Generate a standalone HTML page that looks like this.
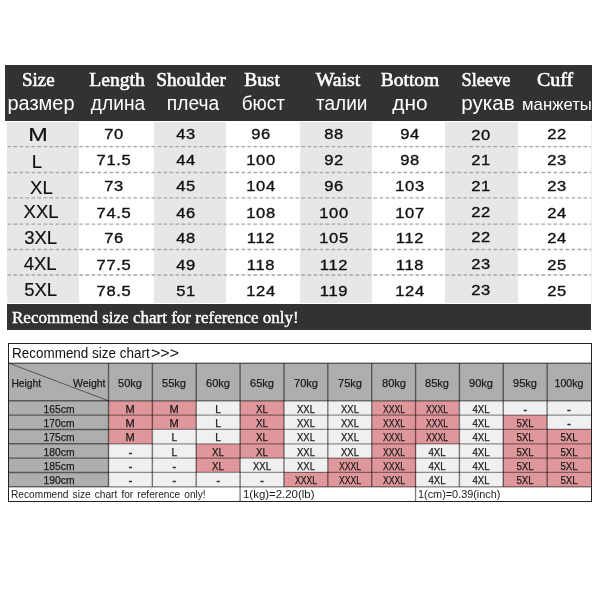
<!DOCTYPE html>
<html><head><meta charset="utf-8"><title>Size chart</title>
<style>
html,body{margin:0;padding:0;background:#fff;}
body{width:600px;height:600px;position:relative;overflow:hidden;font-family:"Liberation Sans",sans-serif;color:#111;}
.a{position:absolute;white-space:nowrap;}
#w{position:absolute;left:0;top:0;width:600px;height:600px;will-change:transform;}
</style></head><body><div id="w">
<div class="a" style="left:5px;top:65px;width:587px;height:55.5px;background:#333132;"></div>
<div class="a" style="left:7px;top:121.8px;width:72px;height:181.4px;background:#e7e7e7;"></div>
<div class="a" style="left:153.5px;top:121.8px;width:72.5px;height:181.4px;background:#e7e7e7;"></div>
<div class="a" style="left:300px;top:121.8px;width:72px;height:181.4px;background:#e7e7e7;"></div>
<div class="a" style="left:445px;top:121.8px;width:73px;height:181.4px;background:#e7e7e7;"></div>
<div class="a" style="left:590.5px;top:122px;width:1px;height:181px;background:#ececec;"></div>
<svg class="a" style="left:0;top:0" width="600" height="600"><line x1="7.5" y1="146.7" x2="591" y2="146.7" stroke="#a6a6a6" stroke-width="1.3" stroke-dasharray="3.6 2.4"/><line x1="7.5" y1="172.5" x2="591" y2="172.5" stroke="#a6a6a6" stroke-width="1.3" stroke-dasharray="3.6 2.4"/><line x1="7.5" y1="197.8" x2="591" y2="197.8" stroke="#a6a6a6" stroke-width="1.3" stroke-dasharray="3.6 2.4"/><line x1="7.5" y1="224.2" x2="591" y2="224.2" stroke="#a6a6a6" stroke-width="1.3" stroke-dasharray="3.6 2.4"/><line x1="7.5" y1="249.5" x2="591" y2="249.5" stroke="#a6a6a6" stroke-width="1.3" stroke-dasharray="3.6 2.4"/><line x1="7.5" y1="275.0" x2="591" y2="275.0" stroke="#a6a6a6" stroke-width="1.3" stroke-dasharray="3.6 2.4"/></svg>
<div class="a" style="left:38.30px;top:70.49px;font-family:'Liberation Serif',serif;font-size:19px;line-height:19px;color:#fff;-webkit-text-stroke:0.55px #fff;transform:translateX(-50%);transform-origin:50% 83.8%;">Size</div>
<div class="a" style="left:116.50px;top:70.49px;font-family:'Liberation Serif',serif;font-size:19px;line-height:19px;color:#fff;-webkit-text-stroke:0.55px #fff;transform:translateX(-50%) scale(1.03,1.0);transform-origin:50% 83.8%;">Length</div>
<div class="a" style="left:190.70px;top:70.49px;font-family:'Liberation Serif',serif;font-size:19px;line-height:19px;color:#fff;-webkit-text-stroke:0.55px #fff;transform:translateX(-50%) scale(1.015,1.0);transform-origin:50% 83.8%;">Shoulder</div>
<div class="a" style="left:262.10px;top:70.49px;font-family:'Liberation Serif',serif;font-size:19px;line-height:19px;color:#fff;-webkit-text-stroke:0.55px #fff;transform:translateX(-50%) scale(1.02,1.0);transform-origin:50% 83.8%;">Bust</div>
<div class="a" style="left:337.80px;top:70.49px;font-family:'Liberation Serif',serif;font-size:19px;line-height:19px;color:#fff;-webkit-text-stroke:0.55px #fff;transform:translateX(-50%) scale(1.045,1.0);transform-origin:50% 83.8%;">Waist</div>
<div class="a" style="left:409.50px;top:70.49px;font-family:'Liberation Serif',serif;font-size:19px;line-height:19px;color:#fff;-webkit-text-stroke:0.55px #fff;transform:translateX(-50%) scale(1.025,1.0);transform-origin:50% 83.8%;">Bottom</div>
<div class="a" style="left:486.10px;top:70.49px;font-family:'Liberation Serif',serif;font-size:19px;line-height:19px;color:#fff;-webkit-text-stroke:0.55px #fff;transform:translateX(-50%) scale(0.965,1.0);transform-origin:50% 83.8%;">Sleeve</div>
<div class="a" style="left:555.40px;top:70.49px;font-family:'Liberation Serif',serif;font-size:19px;line-height:19px;color:#fff;-webkit-text-stroke:0.55px #fff;transform:translateX(-50%) scale(1.05,1.0);transform-origin:50% 83.8%;">Cuff</div>
<div class="a" style="left:40.60px;top:94.12px;font-family:'Liberation Sans',sans-serif;font-size:19px;line-height:19px;color:#fff;transform:translateX(-50%) scale(1.05,1.02);transform-origin:50% 84.7%;">размер</div>
<div class="a" style="left:117.50px;top:94.12px;font-family:'Liberation Sans',sans-serif;font-size:19px;line-height:19px;color:#fff;transform:translateX(-50%) scale(1.01,1.02);transform-origin:50% 84.7%;">длина</div>
<div class="a" style="left:193.30px;top:94.12px;font-family:'Liberation Sans',sans-serif;font-size:19px;line-height:19px;color:#fff;transform:translateX(-50%) scale(1.01,1.02);transform-origin:50% 84.7%;">плеча</div>
<div class="a" style="left:263.30px;top:94.12px;font-family:'Liberation Sans',sans-serif;font-size:19px;line-height:19px;color:#fff;transform:translateX(-50%) scale(1.0,1.02);transform-origin:50% 84.7%;">бюст</div>
<div class="a" style="left:341.70px;top:94.12px;font-family:'Liberation Sans',sans-serif;font-size:19px;line-height:19px;color:#fff;transform:translateX(-50%) scale(1.0,1.02);transform-origin:50% 84.7%;">талии</div>
<div class="a" style="left:410.40px;top:94.12px;font-family:'Liberation Sans',sans-serif;font-size:19px;line-height:19px;color:#fff;transform:translateX(-50%) scale(1.1,1.02);transform-origin:50% 84.7%;">дно</div>
<div class="a" style="left:488.00px;top:94.12px;font-family:'Liberation Sans',sans-serif;font-size:19px;line-height:19px;color:#fff;transform:translateX(-50%) scale(1.085,1.02);transform-origin:50% 84.7%;">рукав</div>
<div class="a" style="left:557.00px;top:96.40px;font-family:'Liberation Sans',sans-serif;font-size:16.3px;line-height:16.3px;color:#fff;transform:translateX(-50%) scale(1.03,1.02);transform-origin:50% 84.7%;">манжеты</div>
<div class="a" style="left:38.00px;top:126.24px;font-family:'Liberation Sans',sans-serif;font-size:18.5px;line-height:18.5px;color:#111;-webkit-text-stroke:0.2px #111;transform:translateX(-50%) scale(1.27,1.04);transform-origin:50% 84.7%;">M</div>
<div class="a" style="left:113.70px;top:125.73px;font-family:'Liberation Sans',sans-serif;font-size:15.2px;line-height:15.2px;color:#111;letter-spacing:0.6px;-webkit-text-stroke:0.35px #111;transform:translateX(-50%) scale(1.09,1);transform-origin:50% 84.7%;">70</div>
<div class="a" style="left:186.30px;top:125.73px;font-family:'Liberation Sans',sans-serif;font-size:15.2px;line-height:15.2px;color:#111;letter-spacing:0.6px;-webkit-text-stroke:0.35px #111;transform:translateX(-50%) scale(1.09,1);transform-origin:50% 84.7%;">43</div>
<div class="a" style="left:261.40px;top:125.73px;font-family:'Liberation Sans',sans-serif;font-size:15.2px;line-height:15.2px;color:#111;letter-spacing:0.6px;-webkit-text-stroke:0.35px #111;transform:translateX(-50%) scale(1.09,1);transform-origin:50% 84.7%;">96</div>
<div class="a" style="left:334.40px;top:125.73px;font-family:'Liberation Sans',sans-serif;font-size:15.2px;line-height:15.2px;color:#111;letter-spacing:0.6px;-webkit-text-stroke:0.35px #111;transform:translateX(-50%) scale(1.09,1);transform-origin:50% 84.7%;">88</div>
<div class="a" style="left:409.60px;top:125.73px;font-family:'Liberation Sans',sans-serif;font-size:15.2px;line-height:15.2px;color:#111;letter-spacing:0.6px;-webkit-text-stroke:0.35px #111;transform:translateX(-50%) scale(1.09,1);transform-origin:50% 84.7%;">94</div>
<div class="a" style="left:481.30px;top:126.73px;font-family:'Liberation Sans',sans-serif;font-size:15.2px;line-height:15.2px;color:#111;letter-spacing:0.6px;-webkit-text-stroke:0.35px #111;transform:translateX(-50%) scale(1.09,1);transform-origin:50% 84.7%;">20</div>
<div class="a" style="left:556.80px;top:125.73px;font-family:'Liberation Sans',sans-serif;font-size:15.2px;line-height:15.2px;color:#111;letter-spacing:0.6px;-webkit-text-stroke:0.35px #111;transform:translateX(-50%) scale(1.09,1);transform-origin:50% 84.7%;">22</div>
<div class="a" style="left:36.80px;top:153.24px;font-family:'Liberation Sans',sans-serif;font-size:18.5px;line-height:18.5px;color:#111;-webkit-text-stroke:0.2px #111;transform:translateX(-50%) scale(1,1.04);transform-origin:50% 84.7%;">L</div>
<div class="a" style="left:113.70px;top:151.93px;font-family:'Liberation Sans',sans-serif;font-size:15.2px;line-height:15.2px;color:#111;letter-spacing:0.6px;-webkit-text-stroke:0.35px #111;transform:translateX(-50%) scale(1.09,1);transform-origin:50% 84.7%;">71.5</div>
<div class="a" style="left:186.30px;top:151.93px;font-family:'Liberation Sans',sans-serif;font-size:15.2px;line-height:15.2px;color:#111;letter-spacing:0.6px;-webkit-text-stroke:0.35px #111;transform:translateX(-50%) scale(1.09,1);transform-origin:50% 84.7%;">44</div>
<div class="a" style="left:261.40px;top:151.93px;font-family:'Liberation Sans',sans-serif;font-size:15.2px;line-height:15.2px;color:#111;letter-spacing:0.6px;-webkit-text-stroke:0.35px #111;transform:translateX(-50%) scale(1.09,1);transform-origin:50% 84.7%;">100</div>
<div class="a" style="left:334.40px;top:151.93px;font-family:'Liberation Sans',sans-serif;font-size:15.2px;line-height:15.2px;color:#111;letter-spacing:0.6px;-webkit-text-stroke:0.35px #111;transform:translateX(-50%) scale(1.09,1);transform-origin:50% 84.7%;">92</div>
<div class="a" style="left:409.60px;top:151.93px;font-family:'Liberation Sans',sans-serif;font-size:15.2px;line-height:15.2px;color:#111;letter-spacing:0.6px;-webkit-text-stroke:0.35px #111;transform:translateX(-50%) scale(1.09,1);transform-origin:50% 84.7%;">98</div>
<div class="a" style="left:481.30px;top:151.93px;font-family:'Liberation Sans',sans-serif;font-size:15.2px;line-height:15.2px;color:#111;letter-spacing:0.6px;-webkit-text-stroke:0.35px #111;transform:translateX(-50%) scale(1.09,1);transform-origin:50% 84.7%;">21</div>
<div class="a" style="left:556.80px;top:151.93px;font-family:'Liberation Sans',sans-serif;font-size:15.2px;line-height:15.2px;color:#111;letter-spacing:0.6px;-webkit-text-stroke:0.35px #111;transform:translateX(-50%) scale(1.09,1);transform-origin:50% 84.7%;">23</div>
<div class="a" style="left:41.40px;top:178.74px;font-family:'Liberation Sans',sans-serif;font-size:18.5px;line-height:18.5px;color:#111;-webkit-text-stroke:0.2px #111;transform:translateX(-50%) scale(1,1.04);transform-origin:50% 84.7%;">XL</div>
<div class="a" style="left:113.70px;top:177.93px;font-family:'Liberation Sans',sans-serif;font-size:15.2px;line-height:15.2px;color:#111;letter-spacing:0.6px;-webkit-text-stroke:0.35px #111;transform:translateX(-50%) scale(1.09,1);transform-origin:50% 84.7%;">73</div>
<div class="a" style="left:186.30px;top:177.93px;font-family:'Liberation Sans',sans-serif;font-size:15.2px;line-height:15.2px;color:#111;letter-spacing:0.6px;-webkit-text-stroke:0.35px #111;transform:translateX(-50%) scale(1.09,1);transform-origin:50% 84.7%;">45</div>
<div class="a" style="left:261.40px;top:177.93px;font-family:'Liberation Sans',sans-serif;font-size:15.2px;line-height:15.2px;color:#111;letter-spacing:0.6px;-webkit-text-stroke:0.35px #111;transform:translateX(-50%) scale(1.09,1);transform-origin:50% 84.7%;">104</div>
<div class="a" style="left:334.40px;top:177.93px;font-family:'Liberation Sans',sans-serif;font-size:15.2px;line-height:15.2px;color:#111;letter-spacing:0.6px;-webkit-text-stroke:0.35px #111;transform:translateX(-50%) scale(1.09,1);transform-origin:50% 84.7%;">96</div>
<div class="a" style="left:409.60px;top:177.93px;font-family:'Liberation Sans',sans-serif;font-size:15.2px;line-height:15.2px;color:#111;letter-spacing:0.6px;-webkit-text-stroke:0.35px #111;transform:translateX(-50%) scale(1.09,1);transform-origin:50% 84.7%;">103</div>
<div class="a" style="left:481.30px;top:177.93px;font-family:'Liberation Sans',sans-serif;font-size:15.2px;line-height:15.2px;color:#111;letter-spacing:0.6px;-webkit-text-stroke:0.35px #111;transform:translateX(-50%) scale(1.09,1);transform-origin:50% 84.7%;">21</div>
<div class="a" style="left:556.80px;top:177.93px;font-family:'Liberation Sans',sans-serif;font-size:15.2px;line-height:15.2px;color:#111;letter-spacing:0.6px;-webkit-text-stroke:0.35px #111;transform:translateX(-50%) scale(1.09,1);transform-origin:50% 84.7%;">23</div>
<div class="a" style="left:41.10px;top:202.84px;font-family:'Liberation Sans',sans-serif;font-size:18.5px;line-height:18.5px;color:#111;-webkit-text-stroke:0.2px #111;transform:translateX(-50%) scale(1,1.04);transform-origin:50% 84.7%;">XXL</div>
<div class="a" style="left:113.70px;top:204.73px;font-family:'Liberation Sans',sans-serif;font-size:15.2px;line-height:15.2px;color:#111;letter-spacing:0.6px;-webkit-text-stroke:0.35px #111;transform:translateX(-50%) scale(1.09,1);transform-origin:50% 84.7%;">74.5</div>
<div class="a" style="left:186.30px;top:204.73px;font-family:'Liberation Sans',sans-serif;font-size:15.2px;line-height:15.2px;color:#111;letter-spacing:0.6px;-webkit-text-stroke:0.35px #111;transform:translateX(-50%) scale(1.09,1);transform-origin:50% 84.7%;">46</div>
<div class="a" style="left:261.40px;top:204.73px;font-family:'Liberation Sans',sans-serif;font-size:15.2px;line-height:15.2px;color:#111;letter-spacing:0.6px;-webkit-text-stroke:0.35px #111;transform:translateX(-50%) scale(1.09,1);transform-origin:50% 84.7%;">108</div>
<div class="a" style="left:334.40px;top:204.73px;font-family:'Liberation Sans',sans-serif;font-size:15.2px;line-height:15.2px;color:#111;letter-spacing:0.6px;-webkit-text-stroke:0.35px #111;transform:translateX(-50%) scale(1.09,1);transform-origin:50% 84.7%;">100</div>
<div class="a" style="left:409.60px;top:204.73px;font-family:'Liberation Sans',sans-serif;font-size:15.2px;line-height:15.2px;color:#111;letter-spacing:0.6px;-webkit-text-stroke:0.35px #111;transform:translateX(-50%) scale(1.09,1);transform-origin:50% 84.7%;">107</div>
<div class="a" style="left:481.30px;top:203.73px;font-family:'Liberation Sans',sans-serif;font-size:15.2px;line-height:15.2px;color:#111;letter-spacing:0.6px;-webkit-text-stroke:0.35px #111;transform:translateX(-50%) scale(1.09,1);transform-origin:50% 84.7%;">22</div>
<div class="a" style="left:556.80px;top:204.73px;font-family:'Liberation Sans',sans-serif;font-size:15.2px;line-height:15.2px;color:#111;letter-spacing:0.6px;-webkit-text-stroke:0.35px #111;transform:translateX(-50%) scale(1.09,1);transform-origin:50% 84.7%;">24</div>
<div class="a" style="left:40.70px;top:229.24px;font-family:'Liberation Sans',sans-serif;font-size:18.5px;line-height:18.5px;color:#111;-webkit-text-stroke:0.2px #111;transform:translateX(-50%) scale(1,1.04);transform-origin:50% 84.7%;">3XL</div>
<div class="a" style="left:113.70px;top:230.33px;font-family:'Liberation Sans',sans-serif;font-size:15.2px;line-height:15.2px;color:#111;letter-spacing:0.6px;-webkit-text-stroke:0.35px #111;transform:translateX(-50%) scale(1.09,1);transform-origin:50% 84.7%;">76</div>
<div class="a" style="left:186.30px;top:230.33px;font-family:'Liberation Sans',sans-serif;font-size:15.2px;line-height:15.2px;color:#111;letter-spacing:0.6px;-webkit-text-stroke:0.35px #111;transform:translateX(-50%) scale(1.09,1);transform-origin:50% 84.7%;">48</div>
<div class="a" style="left:261.40px;top:230.33px;font-family:'Liberation Sans',sans-serif;font-size:15.2px;line-height:15.2px;color:#111;letter-spacing:0.6px;-webkit-text-stroke:0.35px #111;transform:translateX(-50%) scale(1.09,1);transform-origin:50% 84.7%;">112</div>
<div class="a" style="left:334.40px;top:230.33px;font-family:'Liberation Sans',sans-serif;font-size:15.2px;line-height:15.2px;color:#111;letter-spacing:0.6px;-webkit-text-stroke:0.35px #111;transform:translateX(-50%) scale(1.09,1);transform-origin:50% 84.7%;">105</div>
<div class="a" style="left:409.60px;top:230.33px;font-family:'Liberation Sans',sans-serif;font-size:15.2px;line-height:15.2px;color:#111;letter-spacing:0.6px;-webkit-text-stroke:0.35px #111;transform:translateX(-50%) scale(1.09,1);transform-origin:50% 84.7%;">112</div>
<div class="a" style="left:481.30px;top:229.33px;font-family:'Liberation Sans',sans-serif;font-size:15.2px;line-height:15.2px;color:#111;letter-spacing:0.6px;-webkit-text-stroke:0.35px #111;transform:translateX(-50%) scale(1.09,1);transform-origin:50% 84.7%;">22</div>
<div class="a" style="left:556.80px;top:230.33px;font-family:'Liberation Sans',sans-serif;font-size:15.2px;line-height:15.2px;color:#111;letter-spacing:0.6px;-webkit-text-stroke:0.35px #111;transform:translateX(-50%) scale(1.09,1);transform-origin:50% 84.7%;">24</div>
<div class="a" style="left:40.20px;top:254.64px;font-family:'Liberation Sans',sans-serif;font-size:18.5px;line-height:18.5px;color:#111;-webkit-text-stroke:0.2px #111;transform:translateX(-50%) scale(1,1.04);transform-origin:50% 84.7%;">4XL</div>
<div class="a" style="left:113.70px;top:256.73px;font-family:'Liberation Sans',sans-serif;font-size:15.2px;line-height:15.2px;color:#111;letter-spacing:0.6px;-webkit-text-stroke:0.35px #111;transform:translateX(-50%) scale(1.09,1);transform-origin:50% 84.7%;">77.5</div>
<div class="a" style="left:186.30px;top:256.73px;font-family:'Liberation Sans',sans-serif;font-size:15.2px;line-height:15.2px;color:#111;letter-spacing:0.6px;-webkit-text-stroke:0.35px #111;transform:translateX(-50%) scale(1.09,1);transform-origin:50% 84.7%;">49</div>
<div class="a" style="left:261.40px;top:256.73px;font-family:'Liberation Sans',sans-serif;font-size:15.2px;line-height:15.2px;color:#111;letter-spacing:0.6px;-webkit-text-stroke:0.35px #111;transform:translateX(-50%) scale(1.09,1);transform-origin:50% 84.7%;">118</div>
<div class="a" style="left:334.40px;top:256.73px;font-family:'Liberation Sans',sans-serif;font-size:15.2px;line-height:15.2px;color:#111;letter-spacing:0.6px;-webkit-text-stroke:0.35px #111;transform:translateX(-50%) scale(1.09,1);transform-origin:50% 84.7%;">112</div>
<div class="a" style="left:409.60px;top:256.73px;font-family:'Liberation Sans',sans-serif;font-size:15.2px;line-height:15.2px;color:#111;letter-spacing:0.6px;-webkit-text-stroke:0.35px #111;transform:translateX(-50%) scale(1.09,1);transform-origin:50% 84.7%;">118</div>
<div class="a" style="left:481.30px;top:255.73px;font-family:'Liberation Sans',sans-serif;font-size:15.2px;line-height:15.2px;color:#111;letter-spacing:0.6px;-webkit-text-stroke:0.35px #111;transform:translateX(-50%) scale(1.09,1);transform-origin:50% 84.7%;">23</div>
<div class="a" style="left:556.80px;top:256.73px;font-family:'Liberation Sans',sans-serif;font-size:15.2px;line-height:15.2px;color:#111;letter-spacing:0.6px;-webkit-text-stroke:0.35px #111;transform:translateX(-50%) scale(1.09,1);transform-origin:50% 84.7%;">25</div>
<div class="a" style="left:40.60px;top:281.24px;font-family:'Liberation Sans',sans-serif;font-size:18.5px;line-height:18.5px;color:#111;-webkit-text-stroke:0.2px #111;transform:translateX(-50%) scale(1,1.04);transform-origin:50% 84.7%;">5XL</div>
<div class="a" style="left:113.70px;top:282.93px;font-family:'Liberation Sans',sans-serif;font-size:15.2px;line-height:15.2px;color:#111;letter-spacing:0.6px;-webkit-text-stroke:0.35px #111;transform:translateX(-50%) scale(1.09,1);transform-origin:50% 84.7%;">78.5</div>
<div class="a" style="left:186.30px;top:282.93px;font-family:'Liberation Sans',sans-serif;font-size:15.2px;line-height:15.2px;color:#111;letter-spacing:0.6px;-webkit-text-stroke:0.35px #111;transform:translateX(-50%) scale(1.09,1);transform-origin:50% 84.7%;">51</div>
<div class="a" style="left:261.40px;top:282.93px;font-family:'Liberation Sans',sans-serif;font-size:15.2px;line-height:15.2px;color:#111;letter-spacing:0.6px;-webkit-text-stroke:0.35px #111;transform:translateX(-50%) scale(1.09,1);transform-origin:50% 84.7%;">124</div>
<div class="a" style="left:334.40px;top:282.93px;font-family:'Liberation Sans',sans-serif;font-size:15.2px;line-height:15.2px;color:#111;letter-spacing:0.6px;-webkit-text-stroke:0.35px #111;transform:translateX(-50%) scale(1.09,1);transform-origin:50% 84.7%;">119</div>
<div class="a" style="left:409.60px;top:282.93px;font-family:'Liberation Sans',sans-serif;font-size:15.2px;line-height:15.2px;color:#111;letter-spacing:0.6px;-webkit-text-stroke:0.35px #111;transform:translateX(-50%) scale(1.09,1);transform-origin:50% 84.7%;">124</div>
<div class="a" style="left:481.30px;top:281.93px;font-family:'Liberation Sans',sans-serif;font-size:15.2px;line-height:15.2px;color:#111;letter-spacing:0.6px;-webkit-text-stroke:0.35px #111;transform:translateX(-50%) scale(1.09,1);transform-origin:50% 84.7%;">23</div>
<div class="a" style="left:556.80px;top:282.93px;font-family:'Liberation Sans',sans-serif;font-size:15.2px;line-height:15.2px;color:#111;letter-spacing:0.6px;-webkit-text-stroke:0.35px #111;transform:translateX(-50%) scale(1.09,1);transform-origin:50% 84.7%;">25</div>
<div class="a" style="left:7px;top:303.5px;width:584px;height:26px;background:#333132;"></div>
<div class="a" style="left:12.30px;top:309.34px;font-family:'Liberation Serif',serif;font-size:17.5px;line-height:17.5px;color:#fff;-webkit-text-stroke:0.4px #fff;transform:scale(0.972,1);transform-origin:0 83.8%;">Recommend size chart for reference only!</div>
<div class="a" style="left:8px;top:343px;width:582px;height:157px;border:1px solid #222;background:#fff;"></div>
<div class="a" style="left:12.20px;top:345.65px;font-family:'Liberation Sans',sans-serif;font-size:14px;line-height:14px;color:#111;transform:scale(0.962,1.0);transform-origin:0 84.7%;">Recommend size chart</div>
<div class="a" style="left:151.30px;top:345.65px;font-family:'Liberation Sans',sans-serif;font-size:14px;line-height:14px;color:#111;transform:scale(1.14,1.0);transform-origin:0 84.7%;">&gt;&gt;&gt;</div>
<div class="a" style="left:9px;top:363.2px;width:582px;height:37.60000000000002px;background:#aeaeae;"></div>
<div class="a" style="left:9px;top:400.8px;width:99.5px;height:86.0px;background:#aeaeae;"></div>
<div class="a" style="left:108.5px;top:400.8px;width:43.86px;height:14.33px;background:#e0979c;"></div>
<div class="a" style="left:152.36px;top:400.8px;width:43.86px;height:14.33px;background:#e0979c;"></div>
<div class="a" style="left:196.23px;top:400.8px;width:43.86px;height:14.33px;background:#f0f0f0;"></div>
<div class="a" style="left:240.09px;top:400.8px;width:43.86px;height:14.33px;background:#e0979c;"></div>
<div class="a" style="left:283.95px;top:400.8px;width:43.86px;height:14.33px;background:#f0f0f0;"></div>
<div class="a" style="left:327.82px;top:400.8px;width:43.86px;height:14.33px;background:#f0f0f0;"></div>
<div class="a" style="left:371.68px;top:400.8px;width:43.86px;height:14.33px;background:#e0979c;"></div>
<div class="a" style="left:415.55px;top:400.8px;width:43.86px;height:14.33px;background:#e0979c;"></div>
<div class="a" style="left:459.41px;top:400.8px;width:43.86px;height:14.33px;background:#f0f0f0;"></div>
<div class="a" style="left:503.27px;top:400.8px;width:43.86px;height:14.33px;background:#f0f0f0;"></div>
<div class="a" style="left:547.14px;top:400.8px;width:43.86px;height:14.33px;background:#f0f0f0;"></div>
<div class="a" style="left:108.5px;top:415.13px;width:43.86px;height:14.33px;background:#e0979c;"></div>
<div class="a" style="left:152.36px;top:415.13px;width:43.86px;height:14.33px;background:#e0979c;"></div>
<div class="a" style="left:196.23px;top:415.13px;width:43.86px;height:14.33px;background:#f0f0f0;"></div>
<div class="a" style="left:240.09px;top:415.13px;width:43.86px;height:14.33px;background:#e0979c;"></div>
<div class="a" style="left:283.95px;top:415.13px;width:43.86px;height:14.33px;background:#f0f0f0;"></div>
<div class="a" style="left:327.82px;top:415.13px;width:43.86px;height:14.33px;background:#f0f0f0;"></div>
<div class="a" style="left:371.68px;top:415.13px;width:43.86px;height:14.33px;background:#e0979c;"></div>
<div class="a" style="left:415.55px;top:415.13px;width:43.86px;height:14.33px;background:#e0979c;"></div>
<div class="a" style="left:459.41px;top:415.13px;width:43.86px;height:14.33px;background:#f0f0f0;"></div>
<div class="a" style="left:503.27px;top:415.13px;width:43.86px;height:14.33px;background:#e0979c;"></div>
<div class="a" style="left:547.14px;top:415.13px;width:43.86px;height:14.33px;background:#f0f0f0;"></div>
<div class="a" style="left:108.5px;top:429.47px;width:43.86px;height:14.33px;background:#e0979c;"></div>
<div class="a" style="left:152.36px;top:429.47px;width:43.86px;height:14.33px;background:#f0f0f0;"></div>
<div class="a" style="left:196.23px;top:429.47px;width:43.86px;height:14.33px;background:#f0f0f0;"></div>
<div class="a" style="left:240.09px;top:429.47px;width:43.86px;height:14.33px;background:#e0979c;"></div>
<div class="a" style="left:283.95px;top:429.47px;width:43.86px;height:14.33px;background:#f0f0f0;"></div>
<div class="a" style="left:327.82px;top:429.47px;width:43.86px;height:14.33px;background:#f0f0f0;"></div>
<div class="a" style="left:371.68px;top:429.47px;width:43.86px;height:14.33px;background:#e0979c;"></div>
<div class="a" style="left:415.55px;top:429.47px;width:43.86px;height:14.33px;background:#e0979c;"></div>
<div class="a" style="left:459.41px;top:429.47px;width:43.86px;height:14.33px;background:#f0f0f0;"></div>
<div class="a" style="left:503.27px;top:429.47px;width:43.86px;height:14.33px;background:#e0979c;"></div>
<div class="a" style="left:547.14px;top:429.47px;width:43.86px;height:14.33px;background:#e0979c;"></div>
<div class="a" style="left:108.5px;top:443.8px;width:43.86px;height:14.33px;background:#f0f0f0;"></div>
<div class="a" style="left:152.36px;top:443.8px;width:43.86px;height:14.33px;background:#f0f0f0;"></div>
<div class="a" style="left:196.23px;top:443.8px;width:43.86px;height:14.33px;background:#e0979c;"></div>
<div class="a" style="left:240.09px;top:443.8px;width:43.86px;height:14.33px;background:#e0979c;"></div>
<div class="a" style="left:283.95px;top:443.8px;width:43.86px;height:14.33px;background:#f0f0f0;"></div>
<div class="a" style="left:327.82px;top:443.8px;width:43.86px;height:14.33px;background:#f0f0f0;"></div>
<div class="a" style="left:371.68px;top:443.8px;width:43.86px;height:14.33px;background:#e0979c;"></div>
<div class="a" style="left:415.55px;top:443.8px;width:43.86px;height:14.33px;background:#f0f0f0;"></div>
<div class="a" style="left:459.41px;top:443.8px;width:43.86px;height:14.33px;background:#f0f0f0;"></div>
<div class="a" style="left:503.27px;top:443.8px;width:43.86px;height:14.33px;background:#e0979c;"></div>
<div class="a" style="left:547.14px;top:443.8px;width:43.86px;height:14.33px;background:#e0979c;"></div>
<div class="a" style="left:108.5px;top:458.13px;width:43.86px;height:14.33px;background:#f0f0f0;"></div>
<div class="a" style="left:152.36px;top:458.13px;width:43.86px;height:14.33px;background:#f0f0f0;"></div>
<div class="a" style="left:196.23px;top:458.13px;width:43.86px;height:14.33px;background:#e0979c;"></div>
<div class="a" style="left:240.09px;top:458.13px;width:43.86px;height:14.33px;background:#f0f0f0;"></div>
<div class="a" style="left:283.95px;top:458.13px;width:43.86px;height:14.33px;background:#f0f0f0;"></div>
<div class="a" style="left:327.82px;top:458.13px;width:43.86px;height:14.33px;background:#e0979c;"></div>
<div class="a" style="left:371.68px;top:458.13px;width:43.86px;height:14.33px;background:#e0979c;"></div>
<div class="a" style="left:415.55px;top:458.13px;width:43.86px;height:14.33px;background:#f0f0f0;"></div>
<div class="a" style="left:459.41px;top:458.13px;width:43.86px;height:14.33px;background:#f0f0f0;"></div>
<div class="a" style="left:503.27px;top:458.13px;width:43.86px;height:14.33px;background:#e0979c;"></div>
<div class="a" style="left:547.14px;top:458.13px;width:43.86px;height:14.33px;background:#e0979c;"></div>
<div class="a" style="left:108.5px;top:472.47px;width:43.86px;height:14.33px;background:#f0f0f0;"></div>
<div class="a" style="left:152.36px;top:472.47px;width:43.86px;height:14.33px;background:#f0f0f0;"></div>
<div class="a" style="left:196.23px;top:472.47px;width:43.86px;height:14.33px;background:#f0f0f0;"></div>
<div class="a" style="left:240.09px;top:472.47px;width:43.86px;height:14.33px;background:#f0f0f0;"></div>
<div class="a" style="left:283.95px;top:472.47px;width:43.86px;height:14.33px;background:#e0979c;"></div>
<div class="a" style="left:327.82px;top:472.47px;width:43.86px;height:14.33px;background:#e0979c;"></div>
<div class="a" style="left:371.68px;top:472.47px;width:43.86px;height:14.33px;background:#e0979c;"></div>
<div class="a" style="left:415.55px;top:472.47px;width:43.86px;height:14.33px;background:#f0f0f0;"></div>
<div class="a" style="left:459.41px;top:472.47px;width:43.86px;height:14.33px;background:#f0f0f0;"></div>
<div class="a" style="left:503.27px;top:472.47px;width:43.86px;height:14.33px;background:#e0979c;"></div>
<div class="a" style="left:547.14px;top:472.47px;width:43.86px;height:14.33px;background:#e0979c;"></div>
<svg class="a" style="left:0;top:0" width="600" height="600"><line x1="9.00" y1="363.20" x2="591.00" y2="363.20" stroke="#000" stroke-opacity="0.5" stroke-width="1.4"/><line x1="9.00" y1="400.80" x2="108.50" y2="400.80" stroke="#000" stroke-opacity="0.5" stroke-width="1.4"/><line x1="108.50" y1="400.80" x2="591.00" y2="400.80" stroke="#000" stroke-opacity="0.5" stroke-width="1.25"/><line x1="9.00" y1="415.13" x2="108.50" y2="415.13" stroke="#000" stroke-opacity="0.5" stroke-width="1.4"/><line x1="108.50" y1="415.13" x2="591.00" y2="415.13" stroke="#000" stroke-opacity="0.42" stroke-width="1.25"/><line x1="9.00" y1="429.47" x2="108.50" y2="429.47" stroke="#000" stroke-opacity="0.5" stroke-width="1.4"/><line x1="108.50" y1="429.47" x2="591.00" y2="429.47" stroke="#000" stroke-opacity="0.42" stroke-width="1.25"/><line x1="9.00" y1="443.80" x2="108.50" y2="443.80" stroke="#000" stroke-opacity="0.5" stroke-width="1.4"/><line x1="108.50" y1="443.80" x2="591.00" y2="443.80" stroke="#000" stroke-opacity="0.42" stroke-width="1.25"/><line x1="9.00" y1="458.13" x2="108.50" y2="458.13" stroke="#000" stroke-opacity="0.5" stroke-width="1.4"/><line x1="108.50" y1="458.13" x2="591.00" y2="458.13" stroke="#000" stroke-opacity="0.42" stroke-width="1.25"/><line x1="9.00" y1="472.47" x2="108.50" y2="472.47" stroke="#000" stroke-opacity="0.5" stroke-width="1.4"/><line x1="108.50" y1="472.47" x2="591.00" y2="472.47" stroke="#000" stroke-opacity="0.42" stroke-width="1.25"/><line x1="9.00" y1="486.80" x2="108.50" y2="486.80" stroke="#000" stroke-opacity="0.5" stroke-width="1.4"/><line x1="108.50" y1="486.80" x2="591.00" y2="486.80" stroke="#000" stroke-opacity="0.5" stroke-width="1.25"/><line x1="108.50" y1="363.20" x2="108.50" y2="486.80" stroke="#000" stroke-opacity="0.5" stroke-width="1.4"/><line x1="152.36" y1="363.20" x2="152.36" y2="486.80" stroke="#000" stroke-opacity="0.5" stroke-width="1.4"/><line x1="196.23" y1="363.20" x2="196.23" y2="486.80" stroke="#000" stroke-opacity="0.5" stroke-width="1.4"/><line x1="240.09" y1="363.20" x2="240.09" y2="486.80" stroke="#000" stroke-opacity="0.5" stroke-width="1.4"/><line x1="283.95" y1="363.20" x2="283.95" y2="486.80" stroke="#000" stroke-opacity="0.5" stroke-width="1.4"/><line x1="327.82" y1="363.20" x2="327.82" y2="486.80" stroke="#000" stroke-opacity="0.5" stroke-width="1.4"/><line x1="371.68" y1="363.20" x2="371.68" y2="486.80" stroke="#000" stroke-opacity="0.5" stroke-width="1.4"/><line x1="415.55" y1="363.20" x2="415.55" y2="486.80" stroke="#000" stroke-opacity="0.5" stroke-width="1.4"/><line x1="459.41" y1="363.20" x2="459.41" y2="486.80" stroke="#000" stroke-opacity="0.5" stroke-width="1.4"/><line x1="503.27" y1="363.20" x2="503.27" y2="486.80" stroke="#000" stroke-opacity="0.5" stroke-width="1.4"/><line x1="547.14" y1="363.20" x2="547.14" y2="486.80" stroke="#000" stroke-opacity="0.5" stroke-width="1.4"/><line x1="9.00" y1="363.20" x2="108.50" y2="400.80" stroke="#000" stroke-opacity="0.5" stroke-width="1.0"/><line x1="240.09" y1="486.80" x2="240.09" y2="501.00" stroke="#000" stroke-opacity="0.5" stroke-width="1.4"/><line x1="415.55" y1="486.80" x2="415.55" y2="501.00" stroke="#000" stroke-opacity="0.5" stroke-width="1.4"/></svg>
<div class="a" style="left:11.40px;top:378.98px;font-family:'Liberation Sans',sans-serif;font-size:10.3px;line-height:10.3px;color:#1c1c1c;-webkit-text-stroke:0.25px #1c1c1c;">Height</div>
<div class="a" style="left:73.00px;top:378.98px;font-family:'Liberation Sans',sans-serif;font-size:10.3px;line-height:10.3px;color:#1c1c1c;-webkit-text-stroke:0.25px #1c1c1c;transform:scale(1.02,1);transform-origin:0 84.7%;">Weight</div>
<div class="a" style="left:130.43px;top:378.98px;font-family:'Liberation Sans',sans-serif;font-size:10.3px;line-height:10.3px;color:#1c1c1c;-webkit-text-stroke:0.25px #1c1c1c;transform:translateX(-50%) scale(1.07,1);transform-origin:50% 84.7%;">50kg</div>
<div class="a" style="left:174.30px;top:378.98px;font-family:'Liberation Sans',sans-serif;font-size:10.3px;line-height:10.3px;color:#1c1c1c;-webkit-text-stroke:0.25px #1c1c1c;transform:translateX(-50%) scale(1.07,1);transform-origin:50% 84.7%;">55kg</div>
<div class="a" style="left:218.16px;top:378.98px;font-family:'Liberation Sans',sans-serif;font-size:10.3px;line-height:10.3px;color:#1c1c1c;-webkit-text-stroke:0.25px #1c1c1c;transform:translateX(-50%) scale(1.07,1);transform-origin:50% 84.7%;">60kg</div>
<div class="a" style="left:262.02px;top:378.98px;font-family:'Liberation Sans',sans-serif;font-size:10.3px;line-height:10.3px;color:#1c1c1c;-webkit-text-stroke:0.25px #1c1c1c;transform:translateX(-50%) scale(1.07,1);transform-origin:50% 84.7%;">65kg</div>
<div class="a" style="left:305.89px;top:378.98px;font-family:'Liberation Sans',sans-serif;font-size:10.3px;line-height:10.3px;color:#1c1c1c;-webkit-text-stroke:0.25px #1c1c1c;transform:translateX(-50%) scale(1.07,1);transform-origin:50% 84.7%;">70kg</div>
<div class="a" style="left:349.75px;top:378.98px;font-family:'Liberation Sans',sans-serif;font-size:10.3px;line-height:10.3px;color:#1c1c1c;-webkit-text-stroke:0.25px #1c1c1c;transform:translateX(-50%) scale(1.07,1);transform-origin:50% 84.7%;">75kg</div>
<div class="a" style="left:393.61px;top:378.98px;font-family:'Liberation Sans',sans-serif;font-size:10.3px;line-height:10.3px;color:#1c1c1c;-webkit-text-stroke:0.25px #1c1c1c;transform:translateX(-50%) scale(1.07,1);transform-origin:50% 84.7%;">80kg</div>
<div class="a" style="left:437.48px;top:378.98px;font-family:'Liberation Sans',sans-serif;font-size:10.3px;line-height:10.3px;color:#1c1c1c;-webkit-text-stroke:0.25px #1c1c1c;transform:translateX(-50%) scale(1.07,1);transform-origin:50% 84.7%;">85kg</div>
<div class="a" style="left:481.34px;top:378.98px;font-family:'Liberation Sans',sans-serif;font-size:10.3px;line-height:10.3px;color:#1c1c1c;-webkit-text-stroke:0.25px #1c1c1c;transform:translateX(-50%) scale(1.07,1);transform-origin:50% 84.7%;">90kg</div>
<div class="a" style="left:525.20px;top:378.98px;font-family:'Liberation Sans',sans-serif;font-size:10.3px;line-height:10.3px;color:#1c1c1c;-webkit-text-stroke:0.25px #1c1c1c;transform:translateX(-50%) scale(1.07,1);transform-origin:50% 84.7%;">95kg</div>
<div class="a" style="left:569.07px;top:378.98px;font-family:'Liberation Sans',sans-serif;font-size:10.3px;line-height:10.3px;color:#1c1c1c;-webkit-text-stroke:0.25px #1c1c1c;transform:translateX(-50%) scale(1.03,1);transform-origin:50% 84.7%;">100kg</div>
<div class="a" style="left:59.00px;top:405.18px;font-family:'Liberation Sans',sans-serif;font-size:10.3px;line-height:10.3px;color:#1c1c1c;-webkit-text-stroke:0.25px #1c1c1c;transform:translateX(-50%);transform-origin:50% 84.7%;">165cm</div>
<div class="a" style="left:130.43px;top:405.18px;font-family:'Liberation Sans',sans-serif;font-size:10.3px;line-height:10.3px;color:#1c1c1c;-webkit-text-stroke:0.25px #1c1c1c;transform:translateX(-50%) scale(1.07,1);transform-origin:50% 84.7%;">M</div>
<div class="a" style="left:174.30px;top:405.18px;font-family:'Liberation Sans',sans-serif;font-size:10.3px;line-height:10.3px;color:#1c1c1c;-webkit-text-stroke:0.25px #1c1c1c;transform:translateX(-50%) scale(1.07,1);transform-origin:50% 84.7%;">M</div>
<div class="a" style="left:218.16px;top:405.18px;font-family:'Liberation Sans',sans-serif;font-size:10.3px;line-height:10.3px;color:#1c1c1c;-webkit-text-stroke:0.25px #1c1c1c;transform:translateX(-50%);transform-origin:50% 84.7%;">L</div>
<div class="a" style="left:262.02px;top:405.18px;font-family:'Liberation Sans',sans-serif;font-size:10.3px;line-height:10.3px;color:#1c1c1c;-webkit-text-stroke:0.25px #1c1c1c;transform:translateX(-50%) scale(0.94,1);transform-origin:50% 84.7%;">XL</div>
<div class="a" style="left:305.89px;top:405.18px;font-family:'Liberation Sans',sans-serif;font-size:10.3px;line-height:10.3px;color:#1c1c1c;-webkit-text-stroke:0.25px #1c1c1c;transform:translateX(-50%) scale(0.92,1);transform-origin:50% 84.7%;">XXL</div>
<div class="a" style="left:349.75px;top:405.18px;font-family:'Liberation Sans',sans-serif;font-size:10.3px;line-height:10.3px;color:#1c1c1c;-webkit-text-stroke:0.25px #1c1c1c;transform:translateX(-50%) scale(0.92,1);transform-origin:50% 84.7%;">XXL</div>
<div class="a" style="left:393.61px;top:405.18px;font-family:'Liberation Sans',sans-serif;font-size:10.3px;line-height:10.3px;color:#1c1c1c;-webkit-text-stroke:0.25px #1c1c1c;transform:translateX(-50%) scale(0.83,1);transform-origin:50% 84.7%;">XXXL</div>
<div class="a" style="left:437.48px;top:405.18px;font-family:'Liberation Sans',sans-serif;font-size:10.3px;line-height:10.3px;color:#1c1c1c;-webkit-text-stroke:0.25px #1c1c1c;transform:translateX(-50%) scale(0.83,1);transform-origin:50% 84.7%;">XXXL</div>
<div class="a" style="left:481.34px;top:405.18px;font-family:'Liberation Sans',sans-serif;font-size:10.3px;line-height:10.3px;color:#1c1c1c;-webkit-text-stroke:0.25px #1c1c1c;transform:translateX(-50%) scale(0.94,1);transform-origin:50% 84.7%;">4XL</div>
<div class="a" style="left:525.20px;top:405.18px;font-family:'Liberation Sans',sans-serif;font-size:10.3px;line-height:10.3px;color:#1c1c1c;-webkit-text-stroke:0.5px #1c1c1c;transform:translateX(-50%);transform-origin:50% 84.7%;">-</div>
<div class="a" style="left:569.07px;top:405.18px;font-family:'Liberation Sans',sans-serif;font-size:10.3px;line-height:10.3px;color:#1c1c1c;-webkit-text-stroke:0.5px #1c1c1c;transform:translateX(-50%);transform-origin:50% 84.7%;">-</div>
<div class="a" style="left:59.00px;top:419.38px;font-family:'Liberation Sans',sans-serif;font-size:10.3px;line-height:10.3px;color:#1c1c1c;-webkit-text-stroke:0.25px #1c1c1c;transform:translateX(-50%);transform-origin:50% 84.7%;">170cm</div>
<div class="a" style="left:130.43px;top:419.38px;font-family:'Liberation Sans',sans-serif;font-size:10.3px;line-height:10.3px;color:#1c1c1c;-webkit-text-stroke:0.25px #1c1c1c;transform:translateX(-50%) scale(1.07,1);transform-origin:50% 84.7%;">M</div>
<div class="a" style="left:174.30px;top:419.38px;font-family:'Liberation Sans',sans-serif;font-size:10.3px;line-height:10.3px;color:#1c1c1c;-webkit-text-stroke:0.25px #1c1c1c;transform:translateX(-50%) scale(1.07,1);transform-origin:50% 84.7%;">M</div>
<div class="a" style="left:218.16px;top:419.38px;font-family:'Liberation Sans',sans-serif;font-size:10.3px;line-height:10.3px;color:#1c1c1c;-webkit-text-stroke:0.25px #1c1c1c;transform:translateX(-50%);transform-origin:50% 84.7%;">L</div>
<div class="a" style="left:262.02px;top:419.38px;font-family:'Liberation Sans',sans-serif;font-size:10.3px;line-height:10.3px;color:#1c1c1c;-webkit-text-stroke:0.25px #1c1c1c;transform:translateX(-50%) scale(0.94,1);transform-origin:50% 84.7%;">XL</div>
<div class="a" style="left:305.89px;top:419.38px;font-family:'Liberation Sans',sans-serif;font-size:10.3px;line-height:10.3px;color:#1c1c1c;-webkit-text-stroke:0.25px #1c1c1c;transform:translateX(-50%) scale(0.92,1);transform-origin:50% 84.7%;">XXL</div>
<div class="a" style="left:349.75px;top:419.38px;font-family:'Liberation Sans',sans-serif;font-size:10.3px;line-height:10.3px;color:#1c1c1c;-webkit-text-stroke:0.25px #1c1c1c;transform:translateX(-50%) scale(0.92,1);transform-origin:50% 84.7%;">XXL</div>
<div class="a" style="left:393.61px;top:419.38px;font-family:'Liberation Sans',sans-serif;font-size:10.3px;line-height:10.3px;color:#1c1c1c;-webkit-text-stroke:0.25px #1c1c1c;transform:translateX(-50%) scale(0.83,1);transform-origin:50% 84.7%;">XXXL</div>
<div class="a" style="left:437.48px;top:419.38px;font-family:'Liberation Sans',sans-serif;font-size:10.3px;line-height:10.3px;color:#1c1c1c;-webkit-text-stroke:0.25px #1c1c1c;transform:translateX(-50%) scale(0.83,1);transform-origin:50% 84.7%;">XXXL</div>
<div class="a" style="left:481.34px;top:419.38px;font-family:'Liberation Sans',sans-serif;font-size:10.3px;line-height:10.3px;color:#1c1c1c;-webkit-text-stroke:0.25px #1c1c1c;transform:translateX(-50%) scale(0.94,1);transform-origin:50% 84.7%;">4XL</div>
<div class="a" style="left:525.20px;top:419.38px;font-family:'Liberation Sans',sans-serif;font-size:10.3px;line-height:10.3px;color:#1c1c1c;-webkit-text-stroke:0.25px #1c1c1c;transform:translateX(-50%) scale(0.94,1);transform-origin:50% 84.7%;">5XL</div>
<div class="a" style="left:569.07px;top:419.38px;font-family:'Liberation Sans',sans-serif;font-size:10.3px;line-height:10.3px;color:#1c1c1c;-webkit-text-stroke:0.5px #1c1c1c;transform:translateX(-50%);transform-origin:50% 84.7%;">-</div>
<div class="a" style="left:59.00px;top:433.18px;font-family:'Liberation Sans',sans-serif;font-size:10.3px;line-height:10.3px;color:#1c1c1c;-webkit-text-stroke:0.25px #1c1c1c;transform:translateX(-50%);transform-origin:50% 84.7%;">175cm</div>
<div class="a" style="left:130.43px;top:433.18px;font-family:'Liberation Sans',sans-serif;font-size:10.3px;line-height:10.3px;color:#1c1c1c;-webkit-text-stroke:0.25px #1c1c1c;transform:translateX(-50%) scale(1.07,1);transform-origin:50% 84.7%;">M</div>
<div class="a" style="left:174.30px;top:433.18px;font-family:'Liberation Sans',sans-serif;font-size:10.3px;line-height:10.3px;color:#1c1c1c;-webkit-text-stroke:0.25px #1c1c1c;transform:translateX(-50%);transform-origin:50% 84.7%;">L</div>
<div class="a" style="left:218.16px;top:433.18px;font-family:'Liberation Sans',sans-serif;font-size:10.3px;line-height:10.3px;color:#1c1c1c;-webkit-text-stroke:0.25px #1c1c1c;transform:translateX(-50%);transform-origin:50% 84.7%;">L</div>
<div class="a" style="left:262.02px;top:433.18px;font-family:'Liberation Sans',sans-serif;font-size:10.3px;line-height:10.3px;color:#1c1c1c;-webkit-text-stroke:0.25px #1c1c1c;transform:translateX(-50%) scale(0.94,1);transform-origin:50% 84.7%;">XL</div>
<div class="a" style="left:305.89px;top:433.18px;font-family:'Liberation Sans',sans-serif;font-size:10.3px;line-height:10.3px;color:#1c1c1c;-webkit-text-stroke:0.25px #1c1c1c;transform:translateX(-50%) scale(0.92,1);transform-origin:50% 84.7%;">XXL</div>
<div class="a" style="left:349.75px;top:433.18px;font-family:'Liberation Sans',sans-serif;font-size:10.3px;line-height:10.3px;color:#1c1c1c;-webkit-text-stroke:0.25px #1c1c1c;transform:translateX(-50%) scale(0.92,1);transform-origin:50% 84.7%;">XXL</div>
<div class="a" style="left:393.61px;top:433.18px;font-family:'Liberation Sans',sans-serif;font-size:10.3px;line-height:10.3px;color:#1c1c1c;-webkit-text-stroke:0.25px #1c1c1c;transform:translateX(-50%) scale(0.83,1);transform-origin:50% 84.7%;">XXXL</div>
<div class="a" style="left:437.48px;top:433.18px;font-family:'Liberation Sans',sans-serif;font-size:10.3px;line-height:10.3px;color:#1c1c1c;-webkit-text-stroke:0.25px #1c1c1c;transform:translateX(-50%) scale(0.83,1);transform-origin:50% 84.7%;">XXXL</div>
<div class="a" style="left:481.34px;top:433.18px;font-family:'Liberation Sans',sans-serif;font-size:10.3px;line-height:10.3px;color:#1c1c1c;-webkit-text-stroke:0.25px #1c1c1c;transform:translateX(-50%) scale(0.94,1);transform-origin:50% 84.7%;">4XL</div>
<div class="a" style="left:525.20px;top:433.18px;font-family:'Liberation Sans',sans-serif;font-size:10.3px;line-height:10.3px;color:#1c1c1c;-webkit-text-stroke:0.25px #1c1c1c;transform:translateX(-50%) scale(0.94,1);transform-origin:50% 84.7%;">5XL</div>
<div class="a" style="left:569.07px;top:433.18px;font-family:'Liberation Sans',sans-serif;font-size:10.3px;line-height:10.3px;color:#1c1c1c;-webkit-text-stroke:0.25px #1c1c1c;transform:translateX(-50%) scale(0.94,1);transform-origin:50% 84.7%;">5XL</div>
<div class="a" style="left:59.00px;top:447.58px;font-family:'Liberation Sans',sans-serif;font-size:10.3px;line-height:10.3px;color:#1c1c1c;-webkit-text-stroke:0.25px #1c1c1c;transform:translateX(-50%);transform-origin:50% 84.7%;">180cm</div>
<div class="a" style="left:130.43px;top:447.58px;font-family:'Liberation Sans',sans-serif;font-size:10.3px;line-height:10.3px;color:#1c1c1c;-webkit-text-stroke:0.5px #1c1c1c;transform:translateX(-50%);transform-origin:50% 84.7%;">-</div>
<div class="a" style="left:174.30px;top:447.58px;font-family:'Liberation Sans',sans-serif;font-size:10.3px;line-height:10.3px;color:#1c1c1c;-webkit-text-stroke:0.25px #1c1c1c;transform:translateX(-50%);transform-origin:50% 84.7%;">L</div>
<div class="a" style="left:218.16px;top:447.58px;font-family:'Liberation Sans',sans-serif;font-size:10.3px;line-height:10.3px;color:#1c1c1c;-webkit-text-stroke:0.25px #1c1c1c;transform:translateX(-50%) scale(0.94,1);transform-origin:50% 84.7%;">XL</div>
<div class="a" style="left:262.02px;top:447.58px;font-family:'Liberation Sans',sans-serif;font-size:10.3px;line-height:10.3px;color:#1c1c1c;-webkit-text-stroke:0.25px #1c1c1c;transform:translateX(-50%) scale(0.94,1);transform-origin:50% 84.7%;">XL</div>
<div class="a" style="left:305.89px;top:447.58px;font-family:'Liberation Sans',sans-serif;font-size:10.3px;line-height:10.3px;color:#1c1c1c;-webkit-text-stroke:0.25px #1c1c1c;transform:translateX(-50%) scale(0.92,1);transform-origin:50% 84.7%;">XXL</div>
<div class="a" style="left:349.75px;top:447.58px;font-family:'Liberation Sans',sans-serif;font-size:10.3px;line-height:10.3px;color:#1c1c1c;-webkit-text-stroke:0.25px #1c1c1c;transform:translateX(-50%) scale(0.92,1);transform-origin:50% 84.7%;">XXL</div>
<div class="a" style="left:393.61px;top:447.58px;font-family:'Liberation Sans',sans-serif;font-size:10.3px;line-height:10.3px;color:#1c1c1c;-webkit-text-stroke:0.25px #1c1c1c;transform:translateX(-50%) scale(0.83,1);transform-origin:50% 84.7%;">XXXL</div>
<div class="a" style="left:437.48px;top:447.58px;font-family:'Liberation Sans',sans-serif;font-size:10.3px;line-height:10.3px;color:#1c1c1c;-webkit-text-stroke:0.25px #1c1c1c;transform:translateX(-50%) scale(0.94,1);transform-origin:50% 84.7%;">4XL</div>
<div class="a" style="left:481.34px;top:447.58px;font-family:'Liberation Sans',sans-serif;font-size:10.3px;line-height:10.3px;color:#1c1c1c;-webkit-text-stroke:0.25px #1c1c1c;transform:translateX(-50%) scale(0.94,1);transform-origin:50% 84.7%;">4XL</div>
<div class="a" style="left:525.20px;top:447.58px;font-family:'Liberation Sans',sans-serif;font-size:10.3px;line-height:10.3px;color:#1c1c1c;-webkit-text-stroke:0.25px #1c1c1c;transform:translateX(-50%) scale(0.94,1);transform-origin:50% 84.7%;">5XL</div>
<div class="a" style="left:569.07px;top:447.58px;font-family:'Liberation Sans',sans-serif;font-size:10.3px;line-height:10.3px;color:#1c1c1c;-webkit-text-stroke:0.25px #1c1c1c;transform:translateX(-50%) scale(0.94,1);transform-origin:50% 84.7%;">5XL</div>
<div class="a" style="left:59.00px;top:461.68px;font-family:'Liberation Sans',sans-serif;font-size:10.3px;line-height:10.3px;color:#1c1c1c;-webkit-text-stroke:0.25px #1c1c1c;transform:translateX(-50%);transform-origin:50% 84.7%;">185cm</div>
<div class="a" style="left:130.43px;top:461.68px;font-family:'Liberation Sans',sans-serif;font-size:10.3px;line-height:10.3px;color:#1c1c1c;-webkit-text-stroke:0.5px #1c1c1c;transform:translateX(-50%);transform-origin:50% 84.7%;">-</div>
<div class="a" style="left:174.30px;top:461.68px;font-family:'Liberation Sans',sans-serif;font-size:10.3px;line-height:10.3px;color:#1c1c1c;-webkit-text-stroke:0.5px #1c1c1c;transform:translateX(-50%);transform-origin:50% 84.7%;">-</div>
<div class="a" style="left:218.16px;top:461.68px;font-family:'Liberation Sans',sans-serif;font-size:10.3px;line-height:10.3px;color:#1c1c1c;-webkit-text-stroke:0.25px #1c1c1c;transform:translateX(-50%) scale(0.94,1);transform-origin:50% 84.7%;">XL</div>
<div class="a" style="left:262.02px;top:461.68px;font-family:'Liberation Sans',sans-serif;font-size:10.3px;line-height:10.3px;color:#1c1c1c;-webkit-text-stroke:0.25px #1c1c1c;transform:translateX(-50%) scale(0.92,1);transform-origin:50% 84.7%;">XXL</div>
<div class="a" style="left:305.89px;top:461.68px;font-family:'Liberation Sans',sans-serif;font-size:10.3px;line-height:10.3px;color:#1c1c1c;-webkit-text-stroke:0.25px #1c1c1c;transform:translateX(-50%) scale(0.92,1);transform-origin:50% 84.7%;">XXL</div>
<div class="a" style="left:349.75px;top:461.68px;font-family:'Liberation Sans',sans-serif;font-size:10.3px;line-height:10.3px;color:#1c1c1c;-webkit-text-stroke:0.25px #1c1c1c;transform:translateX(-50%) scale(0.83,1);transform-origin:50% 84.7%;">XXXL</div>
<div class="a" style="left:393.61px;top:461.68px;font-family:'Liberation Sans',sans-serif;font-size:10.3px;line-height:10.3px;color:#1c1c1c;-webkit-text-stroke:0.25px #1c1c1c;transform:translateX(-50%) scale(0.83,1);transform-origin:50% 84.7%;">XXXL</div>
<div class="a" style="left:437.48px;top:461.68px;font-family:'Liberation Sans',sans-serif;font-size:10.3px;line-height:10.3px;color:#1c1c1c;-webkit-text-stroke:0.25px #1c1c1c;transform:translateX(-50%) scale(0.94,1);transform-origin:50% 84.7%;">4XL</div>
<div class="a" style="left:481.34px;top:461.68px;font-family:'Liberation Sans',sans-serif;font-size:10.3px;line-height:10.3px;color:#1c1c1c;-webkit-text-stroke:0.25px #1c1c1c;transform:translateX(-50%) scale(0.94,1);transform-origin:50% 84.7%;">4XL</div>
<div class="a" style="left:525.20px;top:461.68px;font-family:'Liberation Sans',sans-serif;font-size:10.3px;line-height:10.3px;color:#1c1c1c;-webkit-text-stroke:0.25px #1c1c1c;transform:translateX(-50%) scale(0.94,1);transform-origin:50% 84.7%;">5XL</div>
<div class="a" style="left:569.07px;top:461.68px;font-family:'Liberation Sans',sans-serif;font-size:10.3px;line-height:10.3px;color:#1c1c1c;-webkit-text-stroke:0.25px #1c1c1c;transform:translateX(-50%) scale(0.94,1);transform-origin:50% 84.7%;">5XL</div>
<div class="a" style="left:59.00px;top:476.18px;font-family:'Liberation Sans',sans-serif;font-size:10.3px;line-height:10.3px;color:#1c1c1c;-webkit-text-stroke:0.25px #1c1c1c;transform:translateX(-50%);transform-origin:50% 84.7%;">190cm</div>
<div class="a" style="left:130.43px;top:476.18px;font-family:'Liberation Sans',sans-serif;font-size:10.3px;line-height:10.3px;color:#1c1c1c;-webkit-text-stroke:0.5px #1c1c1c;transform:translateX(-50%);transform-origin:50% 84.7%;">-</div>
<div class="a" style="left:174.30px;top:476.18px;font-family:'Liberation Sans',sans-serif;font-size:10.3px;line-height:10.3px;color:#1c1c1c;-webkit-text-stroke:0.5px #1c1c1c;transform:translateX(-50%);transform-origin:50% 84.7%;">-</div>
<div class="a" style="left:218.16px;top:476.18px;font-family:'Liberation Sans',sans-serif;font-size:10.3px;line-height:10.3px;color:#1c1c1c;-webkit-text-stroke:0.5px #1c1c1c;transform:translateX(-50%);transform-origin:50% 84.7%;">-</div>
<div class="a" style="left:262.02px;top:476.18px;font-family:'Liberation Sans',sans-serif;font-size:10.3px;line-height:10.3px;color:#1c1c1c;-webkit-text-stroke:0.5px #1c1c1c;transform:translateX(-50%);transform-origin:50% 84.7%;">-</div>
<div class="a" style="left:305.89px;top:476.18px;font-family:'Liberation Sans',sans-serif;font-size:10.3px;line-height:10.3px;color:#1c1c1c;-webkit-text-stroke:0.25px #1c1c1c;transform:translateX(-50%) scale(0.83,1);transform-origin:50% 84.7%;">XXXL</div>
<div class="a" style="left:349.75px;top:476.18px;font-family:'Liberation Sans',sans-serif;font-size:10.3px;line-height:10.3px;color:#1c1c1c;-webkit-text-stroke:0.25px #1c1c1c;transform:translateX(-50%) scale(0.83,1);transform-origin:50% 84.7%;">XXXL</div>
<div class="a" style="left:393.61px;top:476.18px;font-family:'Liberation Sans',sans-serif;font-size:10.3px;line-height:10.3px;color:#1c1c1c;-webkit-text-stroke:0.25px #1c1c1c;transform:translateX(-50%) scale(0.83,1);transform-origin:50% 84.7%;">XXXL</div>
<div class="a" style="left:437.48px;top:476.18px;font-family:'Liberation Sans',sans-serif;font-size:10.3px;line-height:10.3px;color:#1c1c1c;-webkit-text-stroke:0.25px #1c1c1c;transform:translateX(-50%) scale(0.94,1);transform-origin:50% 84.7%;">4XL</div>
<div class="a" style="left:481.34px;top:476.18px;font-family:'Liberation Sans',sans-serif;font-size:10.3px;line-height:10.3px;color:#1c1c1c;-webkit-text-stroke:0.25px #1c1c1c;transform:translateX(-50%) scale(0.94,1);transform-origin:50% 84.7%;">4XL</div>
<div class="a" style="left:525.20px;top:476.18px;font-family:'Liberation Sans',sans-serif;font-size:10.3px;line-height:10.3px;color:#1c1c1c;-webkit-text-stroke:0.25px #1c1c1c;transform:translateX(-50%) scale(0.94,1);transform-origin:50% 84.7%;">5XL</div>
<div class="a" style="left:569.07px;top:476.18px;font-family:'Liberation Sans',sans-serif;font-size:10.3px;line-height:10.3px;color:#1c1c1c;-webkit-text-stroke:0.25px #1c1c1c;transform:translateX(-50%) scale(0.94,1);transform-origin:50% 84.7%;">5XL</div>
<div class="a" style="left:11.40px;top:489.58px;font-family:'Liberation Sans',sans-serif;font-size:10.3px;line-height:10.3px;color:#1c1c1c;transform:scale(0.985,1);transform-origin:0 84.7%;word-spacing:1.3px;">Recommend size chart for reference only!</div>
<div class="a" style="left:243.00px;top:489.58px;font-family:'Liberation Sans',sans-serif;font-size:10.3px;line-height:10.3px;color:#1c1c1c;transform:scale(1.11,1);transform-origin:0 84.7%;">1(kg)=2.20(lb)</div>
<div class="a" style="left:417.50px;top:489.58px;font-family:'Liberation Sans',sans-serif;font-size:10.3px;line-height:10.3px;color:#1c1c1c;transform:scale(1.055,1);transform-origin:0 84.7%;">1(cm)=0.39(inch)</div>
</div></body></html>
